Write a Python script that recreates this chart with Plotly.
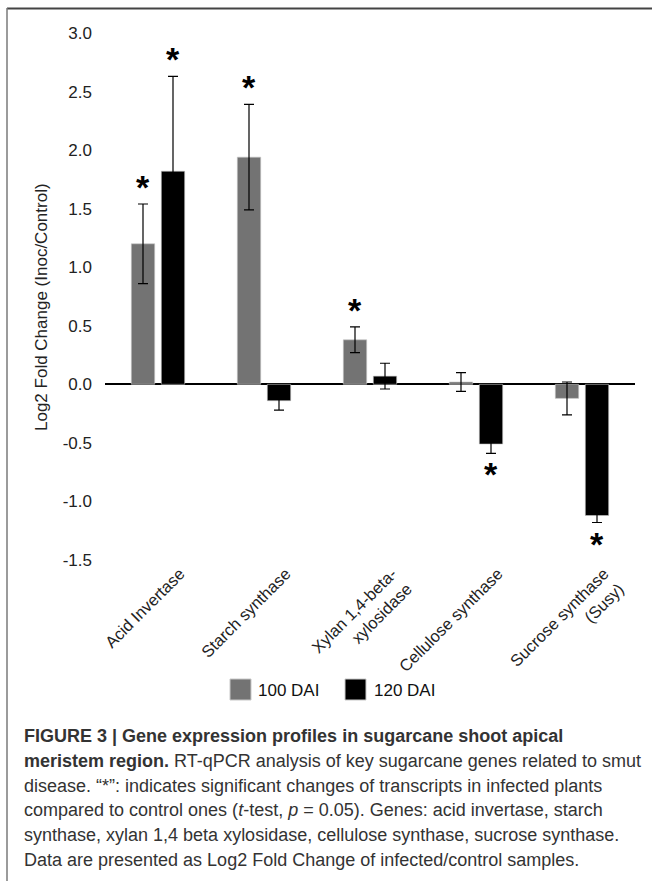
import plotly.graph_objects as go

# Gene expression (Log2 fold change, inoculated vs control) at two time points
genes = [
    "Acid Invertase",
    "Starch synthase",
    "Xylan 1,4-beta-<br>xylosidase",
    "Cellulose synthase",
    "Sucrose synthase<br>(Susy)",
]
dai100 = [1.20, 1.94, 0.38, 0.02, -0.12]
err100 = [0.34, 0.45, 0.11, 0.08, 0.14]
dai120 = [1.82, -0.14, 0.07, -0.51, -1.12]
err120 = [0.81, 0.08, 0.11, 0.08, 0.06]
sig100 = [True, True, True, False, False]
sig120 = [True, False, False, True, True]

y_ticks = [3.0, 2.5, 2.0, 1.5, 1.0, 0.5, 0.0, -0.5, -1.0, -1.5]
series_names = ["100 DAI", "120 DAI"]
series_colors = ["#737373", "#000000"]

caption_lines = [
    "<b>FIGURE 3 | Gene expression profiles in sugarcane shoot apical</b>",
    "<b>meristem region.</b> RT-qPCR analysis of key sugarcane genes related to smut",
    "disease. \u201c*\u201d: indicates significant changes of transcripts in infected plants",
    "compared to control ones (<i>t</i>-test, <i>p</i> = 0.05). Genes: acid invertase, starch",
    "synthase, xylan 1,4 beta xylosidase, cellulose synthase, sucrose synthase.",
    "Data are presented as Log2 Fold Change of infected/control samples.",
]

# page and plot-area geometry (pixels)
W, H = 652, 881
PL, PR, PT, PB = 105, 635, 33, 560
BARGAP, GROUPGAP = 0.434, 0.22


def fx(px):
    return (px - PL) / (PR - PL)


def fy(py):
    return (PB - py) / (PB - PT)


FONT = "Liberation Sans, Arial, sans-serif"
fig = go.Figure()

for name, vals, errs, color in zip(series_names, [dai100, dai120], [err100, err120], series_colors):
    fig.add_trace(go.Bar(
        name=name, x=list(range(len(genes))), y=vals,
        marker=dict(color=color, line=dict(color="#c8c8c8", width=0.6)),
        error_y=dict(type="data", array=errs, visible=True, color="#000000",
                     thickness=1.2, width=5),
        showlegend=False,
    ))

# significance asterisks over / under the bars
slot = (1 - BARGAP) / 2
annotations = []
for k, (vals, errs, sig) in enumerate([(dai100, err100, sig100), (dai120, err120, sig120)]):
    offset = (k - 0.5) * slot
    for i, (v, e, s) in enumerate(zip(vals, errs, sig)):
        if not s:
            continue
        if v >= 0:
            yv, shift = v + e, 17
        else:
            yv, shift = v - e, -21
        annotations.append(dict(
            x=i + offset, y=yv, xref="x", yref="y", text="*", showarrow=False,
            yshift=shift, yanchor="middle", xanchor="center",
            font=dict(family=FONT, size=34, color="#000000", weight="bold"),
        ))

# y-axis title
annotations.append(dict(
    x=fx(41), y=fy(307), xref="paper", yref="paper",
    text="Log2 Fold Change (Inoc/Control)", textangle=-90, showarrow=False,
    xanchor="center", yanchor="middle",
    font=dict(family=FONT, size=17, color="#222222"),
))

# legend entries
legend_items = [(230, 256), (345, 372)]
shapes = []
for (sx, tx), name, color in zip(legend_items, series_names, series_colors):
    shapes.append(dict(type="rect", xref="paper", yref="paper",
                       x0=fx(sx), x1=fx(sx + 21), y0=fy(700), y1=fy(679),
                       fillcolor=color, line=dict(color="#c8c8c8", width=1)))
    annotations.append(dict(
        x=fx(tx), y=fy(690), xref="paper", yref="paper", text=name,
        showarrow=False, xanchor="left", yanchor="middle",
        font=dict(family=FONT, size=17, color="#111111"),
    ))

# figure caption
cap_y = [736, 761, 786, 810, 835, 860]
for line, cy in zip(caption_lines, cap_y):
    annotations.append(dict(
        x=fx(22), y=fy(cy), xref="paper", yref="paper", text=line,
        showarrow=False, xanchor="left", yanchor="middle", align="left",
        font=dict(family=FONT, size=18, color="#333333"),
    ))

# frame lines at top and left of the page
shapes.append(dict(type="line", xref="paper", yref="paper",
                   x0=fx(7), x1=fx(W), y0=fy(8.5), y1=fy(8.5),
                   line=dict(color="#444444", width=2)))
shapes.append(dict(type="line", xref="paper", yref="paper",
                   x0=fx(7), x1=fx(7), y0=fy(8), y1=fy(H),
                   line=dict(color="#7a7a7a", width=1.5)))

fig.update_layout(
    width=W, height=H,
    margin=dict(l=PL, r=W - PR, t=PT, b=H - PB),
    paper_bgcolor="white", plot_bgcolor="white",
    barmode="group", bargap=BARGAP, bargroupgap=GROUPGAP,
    font=dict(family=FONT, size=17, color="#222222"),
    annotations=annotations, shapes=shapes,
    showlegend=False,
)
fig.update_xaxes(
    tickmode="array", tickvals=list(range(len(genes))), ticktext=genes,
    range=[-0.5, len(genes) - 0.5], tickangle=-45, showgrid=False,
    showline=False, ticks="", zeroline=False,
    ticklabelshift=22, ticklabelstandoff=0,
    tickfont=dict(family=FONT, size=16.5, color="#222222"),
)
fig.update_yaxes(
    range=[-1.5, 3.0], tickvals=y_ticks, ticktext=[f"{t:.1f}" for t in y_ticks],
    showgrid=False, showline=False, ticks="", ticklabelstandoff=12,
    zeroline=True, zerolinecolor="#000000", zerolinewidth=1.5,
    tickfont=dict(family=FONT, size=17, color="#222222"),
)

fig.write_html("out.html")
